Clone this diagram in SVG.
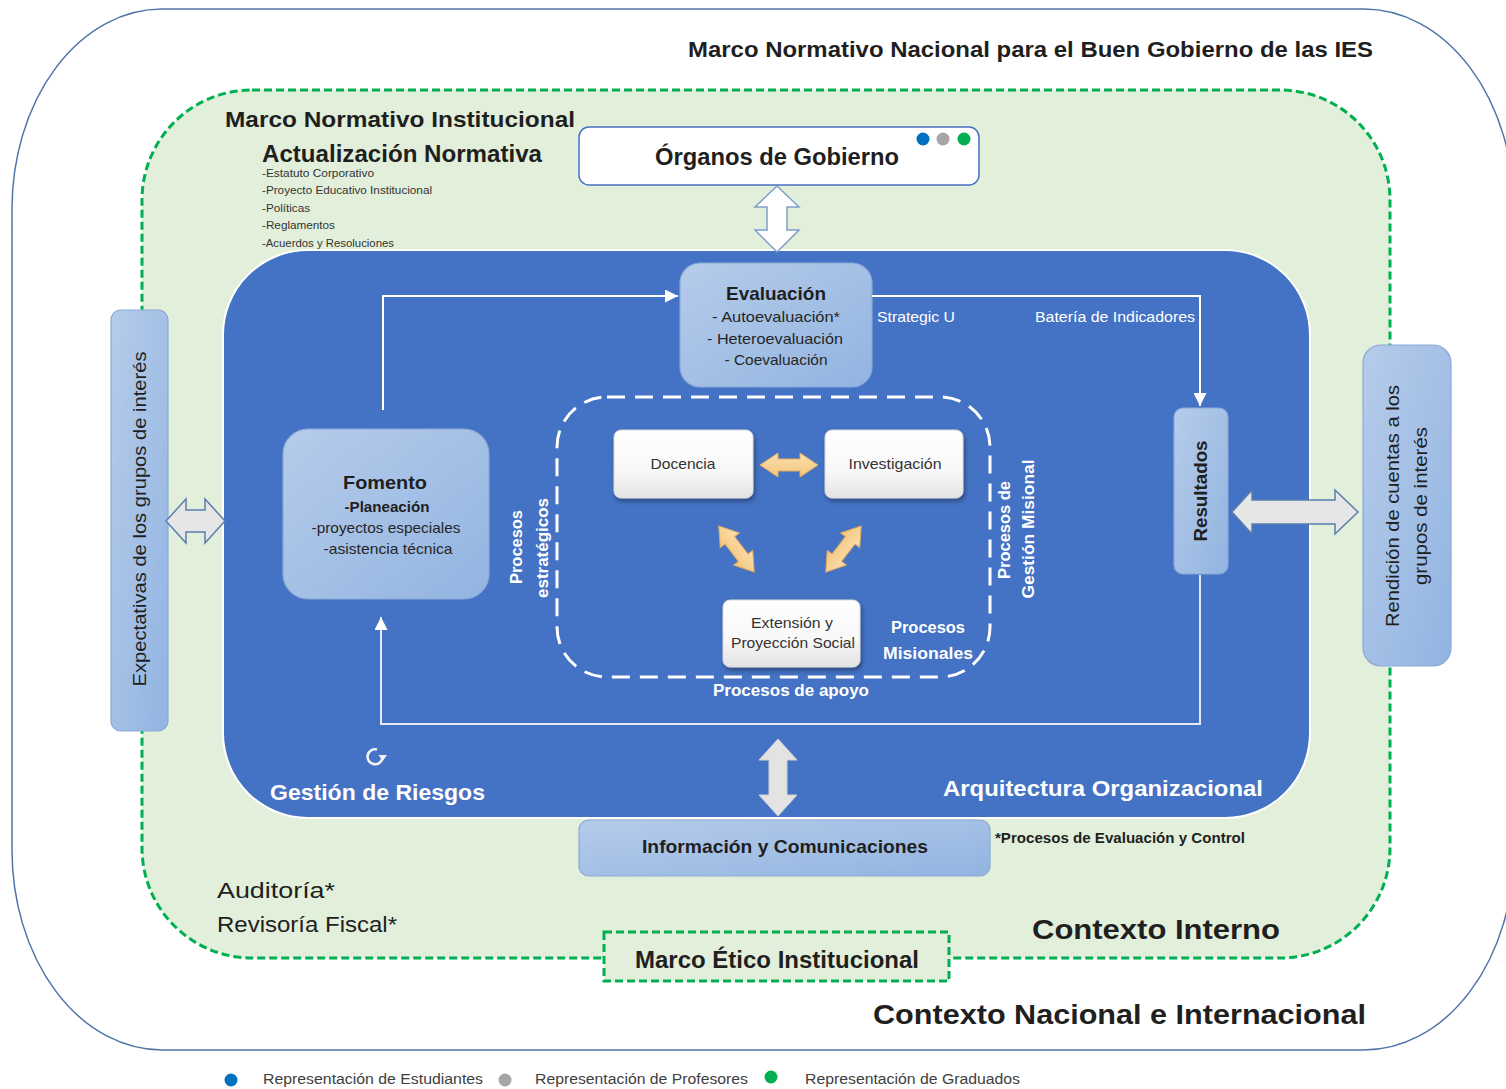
<svg xmlns="http://www.w3.org/2000/svg" width="1506" height="1089" viewBox="0 0 1506 1089">
<style>
text{font-family:"Liberation Sans",Arial,sans-serif;}
.dark{fill:#1f1f1f;}
.b{font-weight:bold;}
.w{fill:#ffffff;}
.box{fill:url(#lb);stroke:#8aa9d8;stroke-width:1.2;}
.wbox{fill:url(#wg);stroke:#d9d9d9;stroke-width:1;filter:url(#sh);}
.conn{fill:none;stroke:#ffffff;stroke-width:2;}
.garrow{fill:#e6e6e6;stroke:#5a7fae;stroke-width:1.5;stroke-linejoin:miter;}
.oarrow{fill:url(#og);stroke:#e2ad5e;stroke-width:1;}
</style>
<defs>
<linearGradient id="lb" x1="0" y1="0" x2="1" y2="1">
<stop offset="0" stop-color="#b6ccea"/><stop offset="1" stop-color="#92b4e1"/>
</linearGradient>
<linearGradient id="wg" x1="0" y1="0" x2="0" y2="1">
<stop offset="0" stop-color="#ffffff"/><stop offset="0.6" stop-color="#f8f8f8"/><stop offset="1" stop-color="#e3e3e3"/>
</linearGradient>
<linearGradient id="og" x1="0" y1="0" x2="0" y2="1">
<stop offset="0" stop-color="#fbe0b0"/><stop offset="1" stop-color="#f4c57c"/>
</linearGradient>
<filter id="sh" x="-10%" y="-10%" width="130%" height="140%">
<feDropShadow dx="1.5" dy="3" stdDeviation="2" flood-color="#000" flood-opacity="0.35"/>
</filter>
<marker id="ah" viewBox="0 0 10 10" refX="10" refY="5" markerUnits="userSpaceOnUse" markerWidth="13" markerHeight="13" orient="auto">
<path d="M0,0 L10,5 L0,10 Z" fill="#ffffff"/>
</marker>
<path id="oa" d="M-29,0 L-11,-12 L-11,-6 L11,-6 L11,-12 L29,0 L11,12 L11,6 L-11,6 L-11,12 Z"/>
</defs>

<rect width="1506" height="1089" fill="#ffffff"/>

<g id="contexto-nacional">
<rect x="12" y="9" width="1502" height="1041" rx="150" ry="200" fill="#ffffff" stroke="#4f74a8" stroke-width="1.5"/>
<text class="dark b" x="688" y="57" font-size="22" textLength="685" lengthAdjust="spacingAndGlyphs">Marco Normativo Nacional para el Buen Gobierno de las IES</text>
<text class="dark b" x="873" y="1024" font-size="28" textLength="493" lengthAdjust="spacingAndGlyphs">Contexto Nacional e Internacional</text>
</g>

<g id="contexto-interno">
<rect x="142" y="90" width="1248" height="868" rx="110" ry="110" fill="#e2efda" stroke="#00b050" stroke-width="3" stroke-dasharray="8 4"/>
<text class="dark b" x="1032" y="939" font-size="28" textLength="248" lengthAdjust="spacingAndGlyphs">Contexto Interno</text>
<text class="dark b" x="225" y="127" font-size="22" textLength="350" lengthAdjust="spacingAndGlyphs">Marco Normativo Institucional</text>
<text class="dark b" x="262" y="162" font-size="23" textLength="280" lengthAdjust="spacingAndGlyphs">Actualización Normativa</text>
<g fill="#333333" font-size="10.5">
<text x="262" y="177" textLength="112" lengthAdjust="spacingAndGlyphs">-Estatuto Corporativo</text>
<text x="262" y="194" textLength="170" lengthAdjust="spacingAndGlyphs">-Proyecto Educativo Institucional</text>
<text x="262" y="212" textLength="48" lengthAdjust="spacingAndGlyphs">-Políticas</text>
<text x="262" y="229" textLength="73" lengthAdjust="spacingAndGlyphs">-Reglamentos</text>
<text x="262" y="247" textLength="132" lengthAdjust="spacingAndGlyphs">-Acuerdos y Resoluciones</text>
</g>
<text class="dark" x="217" y="898" font-size="22" textLength="118" lengthAdjust="spacingAndGlyphs">Auditoría*</text>
<text class="dark" x="217" y="932" font-size="22" textLength="180" lengthAdjust="spacingAndGlyphs">Revisoría Fiscal*</text>
<text class="dark b" x="995" y="843" font-size="14" textLength="250" lengthAdjust="spacingAndGlyphs">*Procesos de Evaluación y Control</text>
</g>

<g id="arquitectura-organizacional">
<rect x="223" y="250" width="1087" height="568" rx="85" ry="85" fill="#4472c4" stroke="#ffffff" stroke-width="2"/>
<text class="w b" x="943" y="796" font-size="22" textLength="320" lengthAdjust="spacingAndGlyphs">Arquitectura Organizacional</text>
<text class="w b" x="270" y="800" font-size="22" textLength="215" lengthAdjust="spacingAndGlyphs">Gestión de Riesgos</text>
<path d="M377,749.5 A7.5,7.5 0 1 0 382.5,757.5" fill="none" stroke="#f2f2f2" stroke-width="2.6"/>
<path d="M378.5,755 L387,755 L382.8,761 Z" fill="#f2f2f2"/>
</g>

<g id="organos-gobierno">
<rect x="579" y="127" width="400" height="58" rx="10" ry="10" fill="#ffffff" stroke="#4472c4" stroke-width="1.5"/>
<text class="dark b" x="777" y="165" font-size="23" text-anchor="middle" textLength="244" lengthAdjust="spacingAndGlyphs">Órganos de Gobierno</text>
<circle cx="923" cy="139" r="6.5" fill="#0070c0"/>
<circle cx="943" cy="139" r="6.5" fill="#a6a6a6"/>
<circle cx="964" cy="139" r="6.5" fill="#00b050"/>
</g>

<g id="evaluacion">
<rect x="680" y="263" width="192" height="124" rx="20" ry="20" class="box"/>
<text class="dark b" x="776" y="300" font-size="19" text-anchor="middle" textLength="100" lengthAdjust="spacingAndGlyphs">Evaluación</text>
<g fill="#262626" font-size="15" text-anchor="middle">
<text x="776" y="322" textLength="128" lengthAdjust="spacingAndGlyphs">- Autoevaluación*</text>
<text x="775" y="344" textLength="136" lengthAdjust="spacingAndGlyphs">- Heteroevaluación</text>
<text x="776" y="365" textLength="103" lengthAdjust="spacingAndGlyphs">- Coevaluación</text>
</g>
</g>

<g id="fomento">
<rect x="283" y="429" width="206" height="170" rx="25" ry="25" class="box"/>
<text class="dark b" x="385" y="489" font-size="19" text-anchor="middle" textLength="84" lengthAdjust="spacingAndGlyphs">Fomento</text>
<text class="dark b" x="387" y="512" font-size="15" text-anchor="middle" textLength="85" lengthAdjust="spacingAndGlyphs">-Planeación</text>
<text fill="#262626" x="386" y="533" font-size="15" text-anchor="middle" textLength="149" lengthAdjust="spacingAndGlyphs">-proyectos especiales</text>
<text fill="#262626" x="388" y="554" font-size="15" text-anchor="middle" textLength="129" lengthAdjust="spacingAndGlyphs">-asistencia técnica</text>
</g>

<g id="procesos-misionales">
<rect x="557" y="397" width="433" height="280" rx="50" ry="50" fill="none" stroke="#ffffff" stroke-width="3" stroke-dasharray="18 10"/>
<text class="w b" x="928" y="633" font-size="16" text-anchor="middle" textLength="74" lengthAdjust="spacingAndGlyphs">Procesos</text>
<text class="w b" x="928" y="659" font-size="16" text-anchor="middle" textLength="90" lengthAdjust="spacingAndGlyphs">Misionales</text>
<text class="w b" x="791" y="696" font-size="16" text-anchor="middle" textLength="156" lengthAdjust="spacingAndGlyphs">Procesos de apoyo</text>
<text class="w b" font-size="16" text-anchor="middle" transform="translate(522,547) rotate(-90)" textLength="74" lengthAdjust="spacingAndGlyphs">Procesos</text>
<text class="w b" font-size="16" text-anchor="middle" transform="translate(548,548) rotate(-90)" textLength="100" lengthAdjust="spacingAndGlyphs">estratégicos</text>
<text class="w b" font-size="16" text-anchor="middle" transform="translate(1010,530) rotate(-90)" textLength="98" lengthAdjust="spacingAndGlyphs">Procesos de</text>
<text class="w b" font-size="16" text-anchor="middle" transform="translate(1034,529) rotate(-90)" textLength="139" lengthAdjust="spacingAndGlyphs">Gestión Misional</text>
</g>

<g id="docencia">
<rect x="614" y="430" width="139" height="68" rx="7" ry="7" class="wbox"/>
<text fill="#333333" x="683" y="469" font-size="15" text-anchor="middle" textLength="65" lengthAdjust="spacingAndGlyphs">Docencia</text>
</g>
<g id="investigacion">
<rect x="825" y="430" width="138" height="68" rx="7" ry="7" class="wbox"/>
<text fill="#333333" x="895" y="469" font-size="15" text-anchor="middle" textLength="93" lengthAdjust="spacingAndGlyphs">Investigación</text>
</g>
<g id="extension">
<rect x="723" y="600" width="137" height="67" rx="7" ry="7" class="wbox"/>
<text fill="#333333" x="792" y="628" font-size="14.5" text-anchor="middle" textLength="82" lengthAdjust="spacingAndGlyphs">Extensión y</text>
<text fill="#333333" x="793" y="648" font-size="14.5" text-anchor="middle" textLength="124" lengthAdjust="spacingAndGlyphs">Proyección Social</text>
</g>

<g id="resultados">
<rect x="1174" y="408" width="54" height="166" rx="9" ry="9" class="box"/>
<text class="dark b" font-size="18" text-anchor="middle" transform="translate(1207,491) rotate(-90)" textLength="101" lengthAdjust="spacingAndGlyphs">Resultados</text>
</g>

<g id="rendicion-cuentas">
<rect x="1363" y="345" width="88" height="321" rx="18" ry="18" class="box"/>
<text class="dark" font-size="19" text-anchor="middle" transform="translate(1399,506) rotate(-90)" textLength="242" lengthAdjust="spacingAndGlyphs">Rendición de cuentas a los</text>
<text class="dark" font-size="19" text-anchor="middle" transform="translate(1427,506) rotate(-90)" textLength="158" lengthAdjust="spacingAndGlyphs">grupos de interés</text>
</g>

<g id="expectativas">
<rect x="111" y="310" width="57" height="421" rx="10" ry="10" class="box"/>
<text class="dark" font-size="19" text-anchor="middle" transform="translate(146,519) rotate(-90)" textLength="335" lengthAdjust="spacingAndGlyphs">Expectativas de los grupos de interés</text>
</g>

<g id="informacion-comunicaciones">
<rect x="579" y="820" width="411" height="56" rx="10" ry="10" class="box"/>
<text class="dark b" x="785" y="853" font-size="19" text-anchor="middle" textLength="286" lengthAdjust="spacingAndGlyphs">Información y Comunicaciones</text>
</g>

<g id="marco-etico">
<rect x="604" y="932" width="345" height="49" fill="#e2efda" stroke="#00b050" stroke-width="3" stroke-dasharray="8 4"/>
<text class="dark b" x="777" y="968" font-size="23" text-anchor="middle" textLength="284" lengthAdjust="spacingAndGlyphs">Marco Ético Institucional</text>
</g>

<g id="connectors">
<path class="conn" d="M383,410 V296 H678" marker-end="url(#ah)"/>
<path class="conn" d="M872,296 H1200 V406" marker-end="url(#ah)"/>
<path class="conn" d="M1200,575 V724 H381 V617" marker-end="url(#ah)" stroke-opacity="0.85"/>
<text class="w" x="877" y="322" font-size="14" textLength="78" lengthAdjust="spacingAndGlyphs">Strategic U</text>
<text class="w" x="1035" y="322" font-size="14" textLength="160" lengthAdjust="spacingAndGlyphs">Batería de Indicadores</text>
<path d="M777,186 L799,207 L787,207 L787,230 L799,230 L777,252 L755,230 L767,230 L767,207 L755,207 Z" fill="#ffffff" stroke="#7f9fc8" stroke-width="1.5"/>
<path class="garrow" d="M166,521 L186,499 L186,510 L205,510 L205,499 L225,521 L205,543 L205,532 L186,532 L186,543 Z"/>
<path class="garrow" d="M1232,512 L1252,490 L1252,500 L1335,500 L1335,490 L1358,512 L1335,534 L1335,524 L1252,524 L1252,534 Z"/>
<path d="M778,739 L797,760 L787,760 L787,795 L797,795 L778,816 L759,795 L769,795 L769,760 L759,760 Z" fill="#e3e3e3" stroke="#d0d0d0" stroke-width="1"/>
<use href="#oa" class="oarrow" transform="translate(789,465)"/>
<use href="#oa" class="oarrow" transform="translate(736.5,549) rotate(52.4)"/>
<use href="#oa" class="oarrow" transform="translate(843.5,549) rotate(127.6)"/>
</g>

<g id="legend" font-size="14" fill="#404040">
<circle cx="231" cy="1080" r="6.5" fill="#0070c0"/>
<text x="263" y="1084" textLength="220" lengthAdjust="spacingAndGlyphs">Representación de Estudiantes</text>
<circle cx="505" cy="1080" r="6.5" fill="#a6a6a6"/>
<text x="535" y="1084" textLength="213" lengthAdjust="spacingAndGlyphs">Representación de Profesores</text>
<circle cx="771" cy="1077" r="6.5" fill="#00b050"/>
<text x="805" y="1084" textLength="215" lengthAdjust="spacingAndGlyphs">Representación de Graduados</text>
</g>
</svg>
